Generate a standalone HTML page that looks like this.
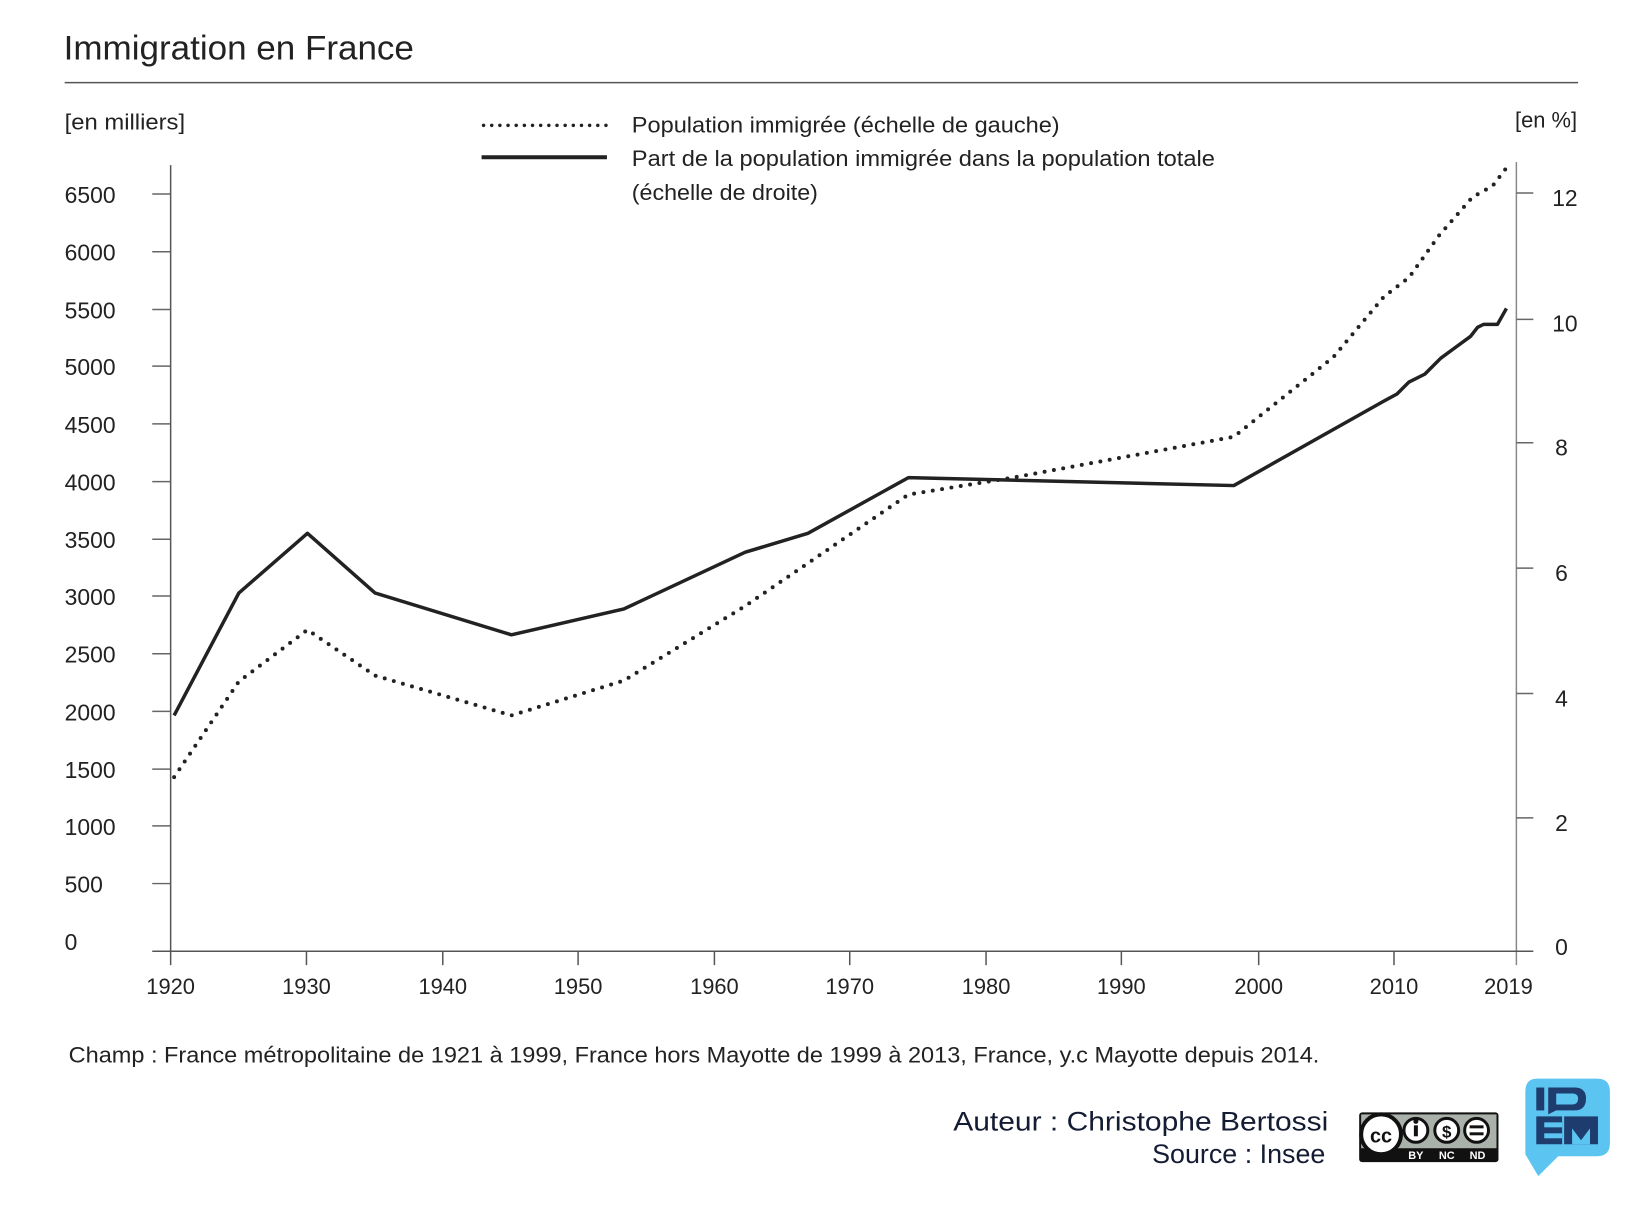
<!DOCTYPE html>
<html><head><meta charset="utf-8"><style>
html,body{margin:0;padding:0;background:#fff;}
svg{display:block;}
text{font-family:"Liberation Sans",sans-serif;fill:#222;}
</style></head><body>
<svg width="1642" height="1228" viewBox="0 0 1642 1228" xmlns="http://www.w3.org/2000/svg">
<g transform="scale(0.995)">
<text x="64" y="60" font-size="34" textLength="352" lengthAdjust="spacingAndGlyphs">Immigration en France</text>
<line x1="65" y1="83" x2="1586" y2="83" stroke="#555" stroke-width="1.5"/>
<text x="65" y="130" font-size="22" textLength="121" lengthAdjust="spacingAndGlyphs">[en milliers]</text>
<text x="1585" y="128" font-size="22" text-anchor="end">[en %]</text>
<line x1="486" y1="126" x2="610" y2="126" stroke="#222" stroke-width="3.5" stroke-dasharray="0 8.2" stroke-linecap="round"/>
<line x1="484" y1="158" x2="610" y2="158" stroke="#222" stroke-width="4"/>
<g font-size="22">
<text x="635" y="133" textLength="430" lengthAdjust="spacingAndGlyphs">Population immigrée (échelle de gauche)</text>
<text x="635" y="167" textLength="586" lengthAdjust="spacingAndGlyphs">Part de la population immigrée dans la population totale</text>
<text x="635" y="201" textLength="187" lengthAdjust="spacingAndGlyphs">(échelle de droite)</text>
</g>
<g stroke="#555" stroke-width="1.5">
<line x1="171.5" y1="166" x2="171.5" y2="956"/>
<line x1="1524" y1="163" x2="1524" y2="970" stroke="#888"/>
<line x1="153" y1="956" x2="1541" y2="956"/>
</g>
<g stroke="#666" stroke-width="1.5">
<line x1="153" y1="195" x2="171" y2="195"/><line x1="153" y1="253" x2="171" y2="253"/>
<line x1="153" y1="311" x2="171" y2="311"/><line x1="153" y1="368" x2="171" y2="368"/>
<line x1="153" y1="426" x2="171" y2="426"/><line x1="153" y1="484" x2="171" y2="484"/>
<line x1="153" y1="542" x2="171" y2="542"/><line x1="153" y1="599" x2="171" y2="599"/>
<line x1="153" y1="657" x2="171" y2="657"/><line x1="153" y1="715" x2="171" y2="715"/>
<line x1="153" y1="773" x2="171" y2="773"/><line x1="153" y1="830" x2="171" y2="830"/>
<line x1="153" y1="888" x2="171" y2="888"/>
<line x1="1524" y1="194" x2="1541" y2="194"/><line x1="1524" y1="321" x2="1541" y2="321"/>
<line x1="1524" y1="445" x2="1541" y2="445"/><line x1="1524" y1="571" x2="1541" y2="571"/>
<line x1="1524" y1="697" x2="1541" y2="697"/><line x1="1524" y1="822" x2="1541" y2="822"/>
</g>
<g font-size="23">
<text x="65" y="204">6500</text><text x="65" y="262">6000</text><text x="65" y="320">5500</text>
<text x="65" y="377">5000</text><text x="65" y="435">4500</text><text x="65" y="493">4000</text>
<text x="65" y="551">3500</text><text x="65" y="608">3000</text><text x="65" y="666">2500</text>
<text x="65" y="724">2000</text><text x="65" y="782">1500</text><text x="65" y="839">1000</text>
<text x="65" y="897">500</text><text x="65" y="955">0</text>
<text x="1560" y="207">12</text><text x="1560" y="333">10</text><text x="1563" y="458">8</text>
<text x="1563" y="584">6</text><text x="1563" y="710">4</text><text x="1563" y="835">2</text>
<text x="1563" y="960">0</text>
</g>
<g stroke="#555" stroke-width="1.5">
<line x1="171.5" y1="956" x2="171.5" y2="970"/><line x1="308" y1="956" x2="308" y2="970"/>
<line x1="445" y1="956" x2="445" y2="970"/><line x1="581" y1="956" x2="581" y2="970"/>
<line x1="718" y1="956" x2="718" y2="970"/><line x1="854" y1="956" x2="854" y2="970"/>
<line x1="991" y1="956" x2="991" y2="970"/><line x1="1127" y1="956" x2="1127" y2="970"/>
<line x1="1265" y1="956" x2="1265" y2="970"/><line x1="1401" y1="956" x2="1401" y2="970"/>
</g>
<g font-size="22" text-anchor="middle">
<text x="171.5" y="999">1920</text><text x="308" y="999">1930</text><text x="445" y="999">1940</text>
<text x="581" y="999">1950</text><text x="718" y="999">1960</text><text x="854" y="999">1970</text>
<text x="991" y="999">1980</text><text x="1127" y="999">1990</text><text x="1265" y="999">2000</text>
<text x="1401" y="999">2010</text><text x="1516" y="999">2019</text>
</g>
<polyline fill="none" stroke="#222" stroke-width="3.5" stroke-linejoin="round" points="175,719 240,596 309,536 377,596 514,638 627,612 749,555 812,536 913,480 1240,488 1391,403 1404,396 1416,384 1432,376 1448,360 1463,349 1478,338 1485,329 1491,326 1505,326 1514,310"/>
<polyline fill="none" stroke="#222" stroke-width="4" stroke-dasharray="0 9.5" stroke-linecap="round" stroke-linejoin="round" points="175,781 240,685 309,633 377,679 514,719 627,684 749,609 812,566 913,497 1018,480 1240,439 1340,359 1391,298 1416,279 1446,237 1480,198 1500,187 1513,170"/>
<text x="69" y="1068" font-size="22" textLength="1257" lengthAdjust="spacingAndGlyphs">Champ : France métropolitaine de 1921 à 1999, France hors Mayotte de 1999 à 2013, France, y.c Mayotte depuis 2014.</text>
<g font-size="27" text-anchor="end">
<text x="1335" y="1136" style="fill:#141c33" textLength="377" lengthAdjust="spacingAndGlyphs">Auteur : Christophe Bertossi</text>
<text x="1332" y="1169" style="fill:#141c33">Source : Insee</text>
</g>
<rect x="1366" y="1118" width="140" height="50" rx="3" fill="#111"/>
<rect x="1368" y="1120" width="136" height="34" fill="#aab0aa"/>
<circle cx="1388" cy="1140" r="20" fill="#fff" stroke="#111" stroke-width="4"/>
<text x="1388" y="1148" font-size="20" font-weight="bold" text-anchor="middle" style="fill:#111">cc</text>
<circle cx="1423" cy="1136" r="12" fill="#fff" stroke="#111" stroke-width="3"/>
<rect x="1421" y="1131" width="4" height="11" fill="#111"/><circle cx="1423" cy="1127" r="2.5" fill="#111"/>
<circle cx="1454" cy="1136" r="12" fill="#fff" stroke="#111" stroke-width="3"/>
<text x="1454" y="1143" font-size="17" font-weight="bold" text-anchor="middle" style="fill:#111">$</text>
<circle cx="1484" cy="1136" r="12" fill="#fff" stroke="#111" stroke-width="3"/>
<rect x="1477" y="1131" width="14" height="3" fill="#111"/><rect x="1477" y="1138" width="14" height="3" fill="#111"/>
<g font-size="11" font-weight="bold" text-anchor="middle">
<text x="1423" y="1165" style="fill:#fff">BY</text><text x="1454" y="1165" style="fill:#fff">NC</text><text x="1485" y="1165" style="fill:#fff">ND</text>
</g>
<path d="M1545,1084 H1605 Q1618,1084 1618,1097 V1149 Q1618,1162 1605,1162 H1566 L1546,1182 L1533,1160 V1097 Q1533,1084 1545,1084 Z" fill="#5bc4f0"/>
<g fill="#1e3c6e">
<rect x="1544" y="1093" width="8" height="23"/>
<path d="M1556,1093 H1582 Q1594,1093 1594,1104 Q1594,1116 1582,1116 H1564 L1556,1120 Z M1564,1099 V1110 H1580 Q1586,1110 1586,1104 Q1586,1099 1580,1099 Z"/>
<rect x="1544" y="1122" width="26" height="28"/>
<rect x="1572" y="1122" width="34" height="28"/>
</g>
<g fill="#5bc4f0">
<rect x="1552" y="1128" width="18" height="5"/><rect x="1552" y="1139" width="18" height="5"/>
<path d="M1580,1150 V1134 L1589,1146 L1598,1134 V1150 Z"/>
</g>
</g>
</svg>
</body></html>
